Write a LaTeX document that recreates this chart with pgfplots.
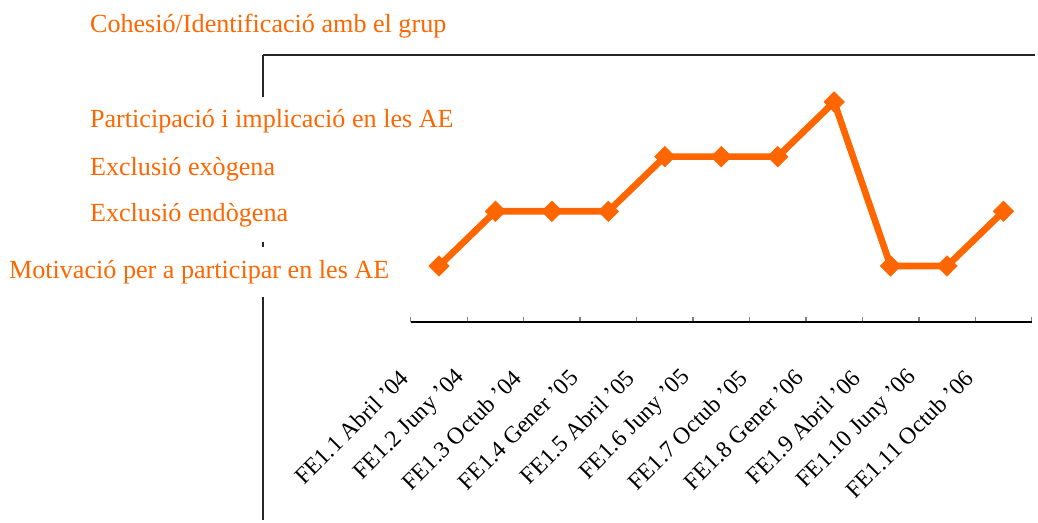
\documentclass[border=0pt]{standalone}
\usepackage{fontspec}
\setmainfont{Liberation Serif}
\usepackage{pgfplots}
\pgfplotsset{compat=1.18}
\definecolor{orng}{HTML}{FF6600}
\begin{document}
\begin{tikzpicture}
\begin{axis}[
  scale only axis, width=465.75pt, height=241.5pt,
  xmin=0.5, xmax=11.5, ymin=-0.0243, ymax=5.8655,
  axis line style={draw=none},
  clip=false,
  xtick={0.5,1.5,...,11.5},
  xticklabels={FE1.1 Abril ’04, FE1.2 Juny ’04, FE1.3 Octub ’04, FE1.4 Gener ’05, FE1.5 Abril ’05, FE1.6 Juny ’05, FE1.7 Octub ’05, FE1.8 Gener ’06, FE1.9 Abril ’06, FE1.10 Juny ’06, FE1.11 Octub ’06, {}},
  xtick pos=bottom, ytick pos=left, tick align=inside,
  major tick length=3.75pt,
  x tick style={gray, line width=1pt},
  xticklabel style={xshift=-4.5pt, yshift=-39pt, rotate=45, anchor=east, inner sep=0pt, font=\fontsize{17.7}{17.7}\selectfont},
  ytick={1.805,2.646,3.524,5.280},
  yticklabels={Exclusió endògena, Exclusió exògena, Participació i implicació en les AE, Cohesió/Identificació amb el grup},
  y tick style={draw=none},
  yticklabel style={anchor=base west, inner sep=0pt, xshift=-240.75pt, text=orng, font=\fontsize{19.6}{19.6}\selectfont},
  extra y ticks={0.762},
  extra y tick labels={Motivació per a participar en les AE},
  extra y tick style={yticklabel style={xshift=-60.75pt}},
]
\path (axis cs:-6.777,5.8655) rectangle (axis cs:11.611,-3.701);
\draw[black, line width=1.5pt] (axis cs:0.5,-0.0243) -- (axis cs:11.5,-0.0243);
\draw[black!85, line width=1.5pt] (axis cs:-2.118,4.8595) -- (axis cs:11.558,4.8595);
\draw[black!85, line width=1.5pt] (axis cs:-2.118,4.8595) -- (axis cs:-2.118,4.091);
\draw[black!85, line width=1.5pt] (axis cs:-2.118,1.439) -- (axis cs:-2.118,1.3475);
\draw[black!85, line width=1.5pt] (axis cs:-2.118,0.433) -- (axis cs:-2.118,-3.646);
\addplot[orng, line width=5pt, mark=square*, mark size=5.4pt, mark options={solid, rotate=45, line width=0.5pt, fill=orng}]
  coordinates {(1,1)(2,2)(3,2)(4,2)(5,3)(6,3)(7,3)(8,4)(9,1)(10,1)(11,2)};
\end{axis}
\end{tikzpicture}
\end{document}
